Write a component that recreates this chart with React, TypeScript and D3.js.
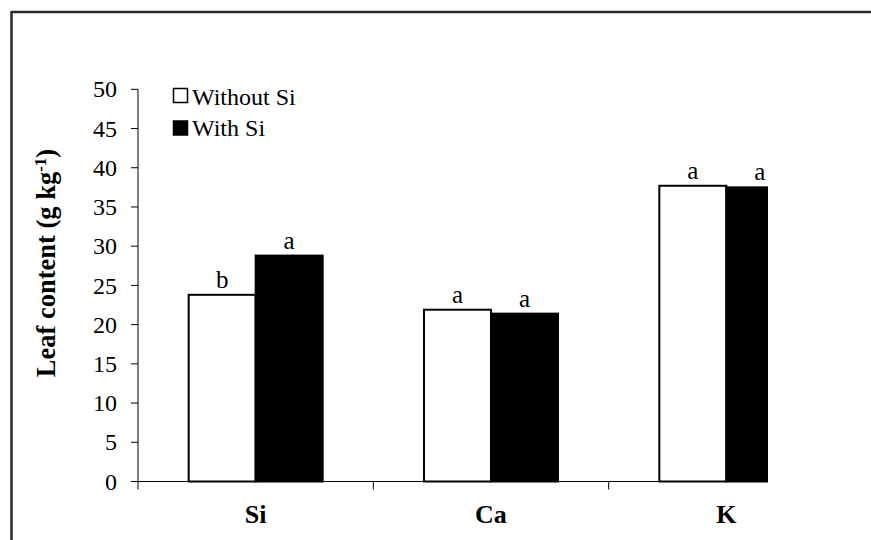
import React from "react";
import * as d3 from "d3";

const categories = ["Si", "Ca", "K"];
const seriesNames = ["Without Si", "With Si"];
const withoutSi = [23.8, 21.9, 37.7];
const withSi = [28.8, 21.4, 37.5];
const lettersWithout = ["b", "a", "a"];
const lettersWith = ["a", "a", "a"];
const yTicks = [0, 5, 10, 15, 20, 25, 30, 35, 40, 45, 50];

const W = 871;
const H = 540;
const serif = "'Liberation Serif', 'Times New Roman', serif";

export default function App() {
  const x0 = 138;
  const step = 235.33;
  const x = d3
    .scaleBand<string>()
    .domain(categories)
    .range([x0, x0 + step * categories.length])
    .paddingInner(0.4306)
    .paddingOuter(0.2153);
  const xs = d3.scaleBand<string>().domain(seriesNames).range([0, x.bandwidth()]);
  const y = d3.scaleLinear().domain([0, 50]).range([481.5, 89.3]);
  const clipRight = 768;
  const y0 = y(0);

  const series = [
    { name: seriesNames[0], values: withoutSi, letters: lettersWithout, fill: "#fff" },
    { name: seriesNames[1], values: withSi, letters: lettersWith, fill: "#000" },
  ];

  const boundaries = categories.slice(1).map((c) => (x(c) as number) - (x.step() * x.paddingInner()) / 2);

  return (
    <svg
      width={W}
      height={H}
      style={{ position: "absolute", left: 0, top: 0, background: "#fff" }}
      fontFamily={serif}
    >
      <defs>
        <clipPath id="plotclip">
          <rect x={0} y={0} width={clipRight} height={H} />
        </clipPath>
      </defs>
      <rect x={0} y={0} width={W} height={H} fill="#fff" />
      {/* frame */}
      <line x1={11.5} y1={12} x2={W} y2={12} stroke="#2a2a2a" strokeWidth={2.5} />
      <line x1={11.5} y1={11} x2={11.5} y2={H} stroke="#2a2a2a" strokeWidth={2.5} />

      {/* y axis */}
      <line x1={x0} y1={y(50)} x2={x0} y2={y0 + 8} stroke="#000" strokeWidth={1} />
      {yTicks.map((t) => (
        <g key={t}>
          <line x1={x0 - 7} x2={x0} y1={y(t)} y2={y(t)} stroke="#000" strokeWidth={1} />
          <text x={117} y={y(t)} dy="0.34em" textAnchor="end" fontSize={24} fill="#000">
            {t}
          </text>
        </g>
      ))}

      {/* bars */}
      <g clipPath="url(#plotclip)">
        <line x1={x0} x2={x0 + step * 3} y1={y0} y2={y0} stroke="#000" strokeWidth={1} />
        {boundaries.map((b, i) => (
          <line key={i} x1={b} x2={b} y1={y0} y2={y0 + 8} stroke="#000" strokeWidth={1} />
        ))}
        {series.map((s) =>
          categories.map((c, i) => {
            const bx = (x(c) as number) + (xs(s.name) as number);
            const top = y(s.values[i]);
            return (
              <rect
                key={s.name + c}
                x={bx}
                y={top}
                width={xs.bandwidth()}
                height={y0 - top}
                fill={s.fill}
                stroke="#000"
                strokeWidth={2}
              />
            );
          })
        )}
      </g>
      {series.map((s) =>
        categories.map((c, i) => {
          const cx = (x(c) as number) + (xs(s.name) as number) + xs.bandwidth() / 2;
          return (
            <text key={"l" + s.name + c} x={cx} y={y(s.values[i]) - 7} textAnchor="middle" fontSize={25} fill="#000">
              {s.letters[i]}
            </text>
          );
        })
      )}

      {/* category labels */}
      {categories.map((c) => (
        <text
          key={c}
          x={(x(c) as number) + x.bandwidth() / 2}
          y={523}
          textAnchor="middle"
          fontSize={26}
          fontWeight="bold"
          fill="#000"
        >
          {c}
        </text>
      ))}

      {/* y label */}
      <text
        transform={`translate(55, 263) rotate(-90)`}
        textAnchor="middle"
        fontSize={26.5}
        fontWeight="bold"
        fill="#000"
      >
        Leaf content (g kg
        <tspan baselineShift="super" fontSize={17}>-1</tspan>)
      </text>

      {/* legend */}
      {series.map((s, i) => (
        <g key={"leg" + s.name}>
          <rect x={173.5} y={88.5 + i * 32.5} width={14} height={14} fill={s.fill} stroke="#000" strokeWidth={1.5} />
          <text x={192} y={105 + i * 31} fontSize={24} fill="#000">
            {s.name}
          </text>
        </g>
      ))}
    </svg>
  );
}
